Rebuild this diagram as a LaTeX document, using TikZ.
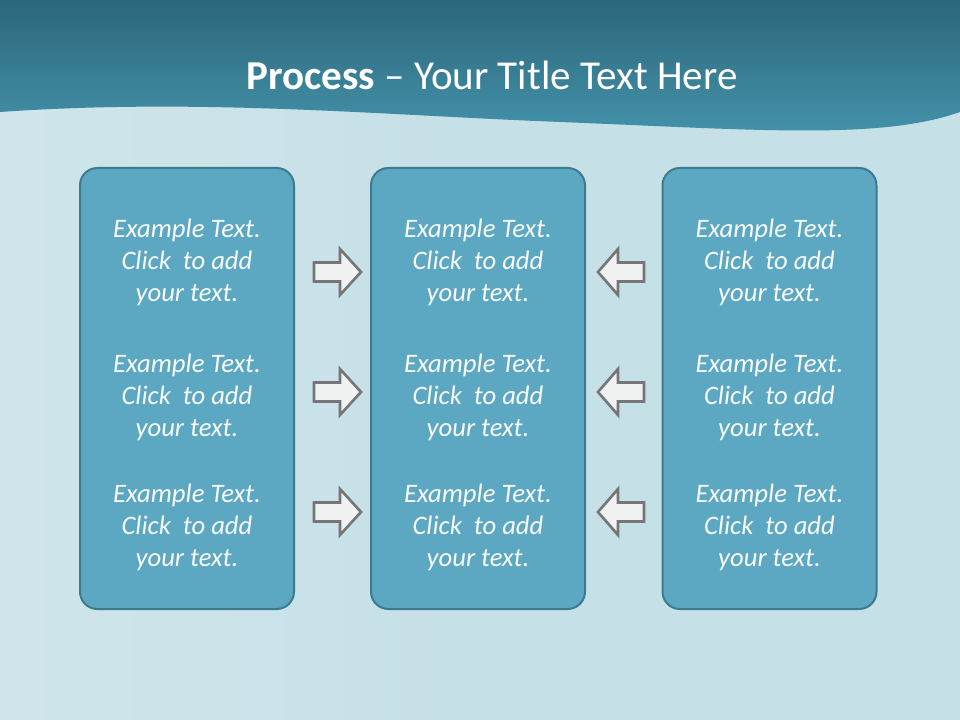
\documentclass[tikz,border=0pt]{standalone}
\usepackage{fontspec}
\setmainfont{Carlito}
\usetikzlibrary{calc}
\definecolor{bgblue}{RGB}{198,224,232}
\definecolor{bgpale}{RGB}{214,233,238}
\definecolor{hdtop}{RGB}{44,102,122}
\definecolor{hdbot}{RGB}{68,148,172}
\definecolor{boxfill}{RGB}{92,168,194}
\definecolor{boxline}{RGB}{62,122,142}
\definecolor{arrfill}{RGB}{240,242,242}
\definecolor{arrline}{RGB}{118,118,118}
\definecolor{txtwhite}{RGB}{248,250,250}
\tikzset{
  px/.style={x=0.75pt,y=-0.75pt},
  panel/.style={draw=boxline,line width=1.5pt,fill=boxfill,rounded corners=13pt,minimum width=160.5pt,minimum height=330.75pt,inner sep=0pt},
  entry/.style={text=txtwhite,font=\fontsize{20}{24}\selectfont\itshape,align=center,inner sep=0pt},
  blockarrow/.style={draw=arrline,line width=2pt,fill=arrfill,line join=miter},
}
\begin{document}
\begin{tikzpicture}[px]
\useasboundingbox (0,0) rectangle (960,720);
% background
\fill[bgblue] (0,0) rectangle (960,720);
\shade[left color=bgpale,right color=bgblue,opacity=0.6] (0,100) rectangle (480,720);
% header with wavy bottom
\shade[top color=hdtop,bottom color=hdbot]
  (0,0) -- (960,0) -- (960,112)
  .. controls (880,140) and (760,130) .. (560,122)
  .. controls (380,115) and (200,98) .. (0,112) -- cycle;
\node[text=white,font=\fontsize{30.8}{36}\selectfont,anchor=center] (title) at (492,75)
  {\textbf{Process} – Your Title Text Here};
% panels
\node[panel] (p1) at (187,388.5) {};
\node[panel] (p2) at (478,388.5) {};
\node[panel] (p3) at (769.5,388.5) {};
% texts
\foreach \col/\cx in {a/187,b/478,c/769.5}{
  \foreach \row/\cy in {1/262,2/397,3/527}{
    \node[entry] (t\col\row) at (\cx,\cy) {Example Text.\\Click\ \ to add\\your text.};
  }
}
% block arrows
\foreach \i/\cy in {1/272,2/392,3/512}{
  \draw[blockarrow] (314,\cy-9.5) -- (340,\cy-9.5) -- (340,\cy-23) -- (361,\cy) -- (340,\cy+23) -- (340,\cy+9.5) -- (314,\cy+9.5) -- cycle;
  \draw[blockarrow] (644,\cy-9.5) -- (618,\cy-9.5) -- (618,\cy-23) -- (598,\cy) -- (618,\cy+23) -- (618,\cy+9.5) -- (644,\cy+9.5) -- cycle;
}
\end{tikzpicture}
\end{document}
